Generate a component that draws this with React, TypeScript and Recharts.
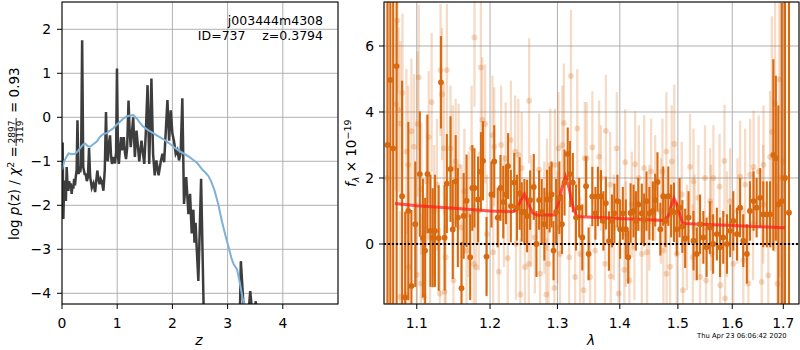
import React from 'react';
import {
  ComposedChart,
  LineChart,
  Line,
  XAxis,
  YAxis,
  CartesianGrid,
  Scatter,
  ErrorBar,
  ReferenceLine,
} from 'recharts';

// ---------- left panel: redshift probability ----------
const zTicks = [0, 1, 2, 3, 4];
const pzTicks = [-4, -3, -2, -1, 0, 1, 2];

// [z, log p(z)]
const pzCurve: [number, number][] = [
  [0.0, -0.6], [0.012, -0.6], [0.024, -2.31], [0.04, -1.5], [0.054, -1.44], [0.07, -1.9],
  [0.085, -1.13], [0.1, -1.55], [0.115, -1.67], [0.13, -1.45], [0.145, -1.6], [0.16, -1.5],
  [0.175, -1.74], [0.19, -1.55], [0.205, -1.62], [0.22, -1.4], [0.235, -1.55], [0.25, -1.35],
  [0.265, -1.2], [0.28, -0.07], [0.3, -1.29], [0.315, -1.15], [0.33, -1.25], [0.345, -1.1],
  [0.365, 1.75], [0.385, -1.13], [0.41, -1.29], [0.43, -1.3], [0.45, -1.45], [0.47, -1.36],
  [0.49, -0.7], [0.51, -1.35], [0.54, -1.6], [0.57, -1.5], [0.6, -1.7], [0.62, -1.45],
  [0.64, -1.21], [0.66, -1.4], [0.68, -1.52], [0.7, -1.4], [0.72, -1.45], [0.75, -1.67],
  [0.775, -1.2], [0.797, 0.12], [0.815, -0.9], [0.83, -1.0], [0.85, -0.6], [0.87, -0.41],
  [0.89, -0.9], [0.905, -1.06], [0.93, -0.9], [0.96, -1.05], [0.98, -0.8], [0.996, 1.11],
  [1.015, -0.9], [1.03, -1.06], [1.05, -0.7], [1.07, -0.45], [1.085, -0.75], [1.1, -0.68],
  [1.12, -0.45], [1.14, -0.8], [1.16, -0.95], [1.18, -0.7], [1.205, 0.38], [1.225, -0.3],
  [1.245, -0.68], [1.29, 0.0], [1.32, -0.9], [1.35, -0.3], [1.4, -1.0], [1.44, -0.53],
  [1.49, -1.06], [1.52, -0.3], [1.55, 0.73], [1.58, -1.06], [1.62, 0.88], [1.65, -0.83],
  [1.68, -1.32], [1.71, -0.98], [1.75, -1.32], [1.79, -1.0], [1.82, -0.83], [1.85, -1.02],
  [1.91, 0.39], [1.94, -0.53], [1.97, 0.16], [2.0, -0.37], [2.03, -0.55], [2.06, -0.83],
  [2.09, -0.75], [2.12, -0.98], [2.15, -0.8], [2.18, 0.43], [2.21, -1.97], [2.25, -1.36],
  [2.29, -2.2], [2.32, -1.74], [2.35, -2.64], [2.38, -2.1], [2.4, -2.85], [2.42, -2.4],
  [2.44, -2.96], [2.47, -3.72], [2.49, -2.8], [2.52, -1.4], [2.545, -3.0], [2.57, -4.6],
  [2.6, -6.0], [3.2, -6.0], [3.24, -3.27], [3.28, -4.1], [3.3, -4.6], [3.37, -4.6],
  [3.41, -3.95], [3.45, -4.5], [3.49, -4.4], [3.51, -4.18], [3.55, -5.0], [3.6, -7.0],
];

// [z, log p(z) of the template fit]
const pzFitCurve: [number, number][] = [
  [0.0, -1.2], [0.04, -1.0], [0.085, -0.89], [0.12, -0.82], [0.18, -0.84], [0.235, -0.83],
  [0.28, -0.78], [0.33, -0.7], [0.38, -0.62], [0.42, -0.6], [0.47, -0.66], [0.51, -0.67],
  [0.56, -0.62], [0.63, -0.55], [0.69, -0.44], [0.75, -0.38], [0.81, -0.36], [0.87, -0.3],
  [0.93, -0.25], [0.99, -0.17], [1.05, -0.1], [1.11, -0.03], [1.17, 0.02], [1.23, 0.04],
  [1.29, 0.05], [1.35, -0.02], [1.41, -0.12], [1.47, -0.21], [1.56, -0.29], [1.65, -0.36],
  [1.74, -0.43], [1.84, -0.5], [1.93, -0.58], [2.02, -0.67], [2.11, -0.75], [2.2, -0.82],
  [2.29, -0.89], [2.38, -0.97], [2.45, -1.04], [2.5, -1.12], [2.55, -1.2], [2.6, -1.26],
  [2.65, -1.33], [2.7, -1.45], [2.76, -1.65], [2.83, -1.97], [2.9, -2.38], [2.96, -2.68],
  [3.02, -2.96], [3.07, -3.2], [3.11, -3.34], [3.17, -3.45], [3.22, -3.75], [3.26, -4.03],
  [3.3, -4.29], [3.34, -4.6],
];

// ---------- right panel: 1D spectrum ----------
const lamTicks = [1.1, 1.2, 1.3, 1.4, 1.5, 1.6, 1.7];
const fluxTicks = [0, 2, 4, 6];

// [lambda, flux, error] - faint (second orientation) spectrum
const faintSpectrum: [number, number, number][] = [
  [1.0614, 2.0, 9], [1.073, 4.24, 2.6], [1.075, 6.77, 2.2], [1.0765, 4.06, 2.5], [1.0784, -1.6, 2.6],
  [1.079, 3.65, 2.5], [1.0815, 4.58, 2.4], [1.0855, -1.55, 2.5], [1.0865, 2.8, 2.5], [1.089, 2.4, 2.4],
  [1.0893, -0.7, 2.3], [1.093, 3.42, 2.2], [1.0965, 2.95, 2.2], [1.1, -0.94, 2.2], [1.101, 3.64, 2.2],
  [1.1026, 5.05, 2.2], [1.1053, -1.2, 2.1], [1.106, 1.67, 2.0], [1.1095, -1.6, 2.1], [1.113, 1.9, 2.0],
  [1.1157, 3.24, 2.0], [1.1175, 0.2, 2.0], [1.1196, 4.3, 2.1], [1.123, 1.0, 2.0], [1.1267, 1.8, 2.0],
  [1.1306, -1.5, 2.0], [1.1315, 5.27, 2.0], [1.1336, 4.54, 2.0], [1.136, 2.9, 2.0], [1.137, -1.45, 2.0],
  [1.1385, -0.4, 1.9], [1.14, 5.27, 2.0], [1.145, 2.9, 1.9], [1.148, 2.3, 1.9], [1.149, -1.1, 1.9],
  [1.152, 2.5, 1.9], [1.156, 2.35, 1.9], [1.16, 0.5, 1.9], [1.164, 1.6, 1.9], [1.167, -0.2, 1.9],
  [1.17, 0.9, 1.9], [1.174, 2.9, 1.9], [1.177, -0.6, 1.8], [1.178, 6.26, 2.1], [1.18, -0.7, 1.8],
  [1.184, 1.0, 1.8], [1.187, 5.35, 2.0], [1.189, 3.76, 1.9], [1.193, 3.64, 1.8], [1.1955, 0.3, 1.8],
  [1.2035, 3.3, 1.8], [1.2045, -0.25, 1.8], [1.206, 2.95, 1.8], [1.2125, -0.84, 1.8], [1.216, 3.0, 1.8],
  [1.22, 1.0, 1.7], [1.2225, 2.59, 1.7], [1.2255, -0.43, 1.7], [1.23, 3.15, 1.8], [1.2363, 2.8, 1.7],
  [1.2375, 0.0, 1.7], [1.241, 2.7, 1.7], [1.244, -1.53, 1.7], [1.246, 2.3, 1.7], [1.2508, -0.7, 1.7],
  [1.2565, -0.6, 1.7], [1.257, 4.34, 1.9], [1.26, 1.0, 1.7], [1.2656, 0.2, 1.7], [1.272, 2.25, 1.7],
  [1.2735, -0.9, 1.7], [1.28, 0.8, 1.7], [1.283, -1.53, 1.7], [1.284, 1.5, 1.7], [1.2862, -0.6, 1.7],
  [1.289, 2.4, 1.7], [1.2953, -1.33, 1.7], [1.296, 2.4, 1.7], [1.3, 0.5, 1.7], [1.3016, 2.9, 1.7],
  [1.304, -0.3, 1.7], [1.3077, 3.0, 1.8], [1.31, 3.67, 1.8], [1.3182, -0.4, 1.7], [1.321, 5.09, 2.0],
  [1.3276, -1.0, 1.7], [1.331, 3.5, 1.8], [1.3355, -0.3, 1.7], [1.341, -1.4, 1.7], [1.343, 2.6, 1.7],
  [1.346, 2.6, 1.7], [1.3514, -1.0, 1.6], [1.3551, 2.93, 1.7], [1.3595, -0.2, 1.6], [1.3659, 2.65, 1.7],
  [1.369, 2.0, 1.6], [1.3757, -0.6, 1.6], [1.377, 3.43, 1.7], [1.384, 1.8, 1.6], [1.385, -0.98, 1.6],
  [1.39, 0.5, 1.6], [1.395, 2.9, 1.7], [1.398, -1.5, 1.6], [1.4075, -0.78, 1.6], [1.409, 2.48, 1.6],
  [1.41, 0.3, 1.6], [1.416, -1.1, 1.6], [1.42, 1.2, 1.6], [1.4245, -0.1, 1.6], [1.4257, 2.42, 1.6],
  [1.432, 2.0, 1.6], [1.437, -0.3, 1.6], [1.441, 2.3, 1.6], [1.446, -0.25, 1.6], [1.45, 0.8, 1.6],
  [1.453, 2.2, 1.6], [1.46, 1.7, 1.6], [1.47, 1.0, 1.6], [1.4726, 2.2, 1.6], [1.4744, -0.2, 1.6],
  [1.4796, 2.8, 1.8], [1.48, -0.9, 1.6], [1.486, -0.69, 1.6], [1.489, 2.5, 1.7], [1.4935, 3.03, 1.8],
  [1.4979, -0.3, 1.6], [1.5068, 1.5, 1.6], [1.509, -1.4, 1.6], [1.516, 0.2, 1.6], [1.5218, 2.34, 1.6],
  [1.5267, -0.4, 1.6], [1.528, 1.9, 1.6], [1.53, 0.5, 1.6], [1.537, 1.4, 1.6], [1.54, -1.0, 1.6],
  [1.549, 2.0, 1.6], [1.551, -1.1, 1.6], [1.5585, 1.3, 1.6], [1.56, 0.8, 1.6], [1.5617, -0.3, 1.6],
  [1.5646, 2.0, 1.6], [1.576, 1.74, 1.6], [1.5772, -1.25, 1.6], [1.5853, 2.52, 1.7], [1.5865, -1.65, 1.6],
  [1.59, 0.6, 1.6], [1.596, 1.3, 1.6], [1.602, -0.6, 1.6], [1.61, 1.0, 1.6], [1.615, 2.04, 1.7],
  [1.6212, -0.5, 1.6], [1.6247, 1.8, 1.7], [1.631, -1.2, 1.7], [1.6343, 2.1, 1.7], [1.64, 0.6, 1.7],
  [1.641, 2.34, 1.7], [1.651, 2.2, 1.7], [1.657, -1.15, 1.8], [1.66, 1.2, 1.8], [1.6605, 2.4, 1.8],
  [1.67, -0.95, 1.9], [1.6735, 2.64, 2.0], [1.677, 3.4, 3.5], [1.6835, 4.27, 4.5], [1.688, -1.2, 3.0],
  [1.692, 4.99, 6], [1.695, 2.0, 9], [1.7, 2.5, 9],
];

// [lambda, flux, error] - main spectrum
const mainSpectrum: [number, number, number][] = [
  [1.0625, 3.0, 9], [1.066, 4.97, 9], [1.0696, 2.9, 9], [1.074, 5.39, 9], [1.081, 1.45, 3.5],
  [1.085, -1.62, 2.6], [1.089, 1.0, 2.7], [1.093, -1.27, 2.3], [1.098, 0.6, 1.9], [1.104, 2.12, 1.9],
  [1.108, 0.18, 1.8], [1.111, -0.2, 1.6], [1.114, 2.12, 1.8], [1.118, 0.4, 1.7], [1.121, 0.19, 1.5],
  [1.124, 0.4, 1.7], [1.129, 0.18, 1.6], [1.132, 4.9, 1.4], [1.137, 0.19, 1.6], [1.14, 1.83, 1.5],
  [1.145, 2.27, 1.6], [1.148, 0.44, 1.5], [1.152, 1.9, 1.4], [1.155, 0.8, 1.5], [1.16, -1.34, 1.4],
  [1.163, 0.85, 1.3], [1.167, 1.31, 1.4], [1.172, -0.4, 1.3], [1.175, 1.7, 1.3], [1.178, 1.7, 1.2],
  [1.183, 1.35, 1.3], [1.187, 2.19, 1.2], [1.19, 2.52, 1.2], [1.195, -0.38, 1.2], [1.202, 1.5, 1.0],
  [1.206, 2.5, 1.1], [1.211, 0.8, 0.9], [1.215, 1.7, 1.0], [1.219, 1.27, 1.1], [1.223, 1.5, 0.9],
  [1.226, 2.36, 1.0], [1.23, 1.15, 1.1], [1.235, 1.86, 0.9], [1.239, 1.1, 1.0], [1.243, 1.53, 1.1],
  [1.246, 0.97, 0.9], [1.25, 0.97, 1.0], [1.254, 0.85, 1.1], [1.2585, 1.33, 0.9], [1.264, 1.73, 1.0],
  [1.268, 0.0, 1.0], [1.272, 1.33, 0.9], [1.276, 0.97, 1.0], [1.28, 0.6, 1.1], [1.284, 1.35, 0.9],
  [1.288, 1.35, 1.0], [1.291, 1.5, 1.0], [1.294, -0.2, 0.9], [1.298, 0.97, 1.0], [1.303, 1.4, 1.1],
  [1.307, 0.6, 0.9], [1.311, 1.86, 1.0], [1.316, 2.73, 0.8], [1.3197, 2.12, 1.0], [1.324, 1.86, 0.9],
  [1.329, 0.8, 1.0], [1.334, 1.1, 0.9], [1.339, 0.2, 1.0], [1.345, 1.75, 0.9], [1.349, -0.3, 0.8],
  [1.355, 1.44, 0.9], [1.36, 0.93, 0.8], [1.364, 1.44, 0.9], [1.369, 1.44, 0.8], [1.373, 0.7, 0.9],
  [1.377, 1.24, 0.8], [1.382, 0.09, 0.9], [1.387, 0.7, 0.8], [1.391, 0.93, 0.9], [1.396, 1.3, 0.8],
  [1.4005, 0.45, 0.9], [1.405, 0.93, 0.8], [1.41, 0.45, 0.9], [1.414, -0.4, 0.8], [1.418, 0.94, 0.9],
  [1.423, 1.0, 0.8], [1.427, 0.7, 0.9], [1.431, 1.2, 0.8], [1.437, 0.93, 0.9], [1.441, 0.73, 0.8],
  [1.445, 1.3, 0.9], [1.45, 0.93, 0.8], [1.456, 1.0, 0.9], [1.46, 1.33, 0.8], [1.464, 1.88, 0.9],
  [1.469, 0.45, 0.8], [1.474, 1.45, 0.9], [1.478, 0.7, 0.8], [1.483, 1.45, 0.9], [1.488, 1.0, 0.8],
  [1.493, 0.96, 0.9], [1.498, 0.45, 0.8], [1.503, 1.1, 0.9], [1.508, 0.53, 0.8], [1.513, 0.17, 0.9],
  [1.519, 0.8, 0.8], [1.528, 0.1, 0.9], [1.534, -0.3, 0.8], [1.54, 0.6, 0.9], [1.546, 0.2, 0.8],
  [1.552, -0.1, 0.9], [1.558, 0.5, 0.8], [1.564, 0.0, 0.9], [1.571, 0.3, 0.8], [1.577, -0.1, 0.9],
  [1.583, 0.2, 0.8], [1.59, 0.0, 0.9], [1.596, 0.4, 0.8], [1.602, 0.7, 0.9], [1.609, 0.3, 0.8],
  [1.615, 1.1, 0.9], [1.621, 0.1, 0.8], [1.628, -0.3, 0.9], [1.634, 1.0, 0.9], [1.641, 1.3, 0.9],
  [1.647, 1.1, 0.9], [1.654, 1.4, 0.9], [1.66, 0.9, 1.0], [1.667, 0.9, 1.0], [1.6735, 0.9, 1.0],
  [1.68, 2.7, 2.9], [1.685, 2.6, 2.5], [1.69, 1.2, 3.0], [1.697, 1.3, 6.0], [1.7035, 2.0, 9],
  [1.7115, 0.95, 9],
];

// [lambda, model flux]
const modelSpectrum: [number, number][] = [
  [1.072, 1.23], [1.1, 1.16], [1.15, 1.08], [1.2, 1.0], [1.232, 0.98], [1.238, 1.03],
  [1.244, 1.3], [1.25, 1.51], [1.256, 1.2], [1.262, 0.95], [1.268, 0.88], [1.296, 0.88],
  [1.301, 1.2], [1.307, 1.7], [1.3126, 2.04], [1.318, 1.7], [1.324, 1.15], [1.33, 0.83],
  [1.4, 0.77], [1.475, 0.71], [1.483, 0.85], [1.488, 1.15], [1.493, 1.38], [1.498, 1.2],
  [1.504, 0.85], [1.509, 0.62], [1.6, 0.56], [1.703, 0.49],
];

const FONT = 'DejaVu Sans';
const ORANGE = '#d8690f';
const FLUX_MIN = -1.818;
const FLUX_MAX = 7.333;

const minus = (v: number) => String(v).replace('-', '\u2212');

const pzData = pzCurve.map(([z, v]) => ({ z, v }));
const pzFitData = pzFitCurve.map(([z, v]) => ({ z, v }));
const faintData = faintSpectrum.map(([x, y, err]) => ({ x, y, err }));
const mainData = mainSpectrum.map(([x, y, err]) => ({ x, y, err }));
const modelData = modelSpectrum.map(([x, y]) => ({ x, y }));

// error bar extent (relative), limited to the visible axes box
const clippedErr = (d: any) => {
  const p = d && d.payload ? d.payload : d;
  return [Math.min(p.err, p.y - FLUX_MIN), Math.min(p.err, FLUX_MAX - p.y)];
};

const tickStyle = { fill: '#000', fontSize: 13.9, fontFamily: FONT };

const FaintDot = (p: any) => (
  <circle cx={p.cx} cy={p.cy} r={2.9} fill={ORANGE} fillOpacity={0.25} />
);
const MainDot = (p: any) => <circle cx={p.cx} cy={p.cy} r={2.9} fill={ORANGE} />;

export default function App() {
  return (
    <div style={{ position: 'absolute', left: 0, top: 0, width: 800, height: 350, background: '#fff' }}>
      <div style={{ position: 'absolute', left: 0, top: 0 }}>
        <LineChart width={340} height={350} margin={{ top: 2, right: 2, left: 0, bottom: 0 }}>
          <CartesianGrid stroke="#b0b0b0" strokeWidth={1} />
          <XAxis
            type="number"
            dataKey="z"
            domain={[0, 5]}
            ticks={zTicks}
            interval={0}
            allowDataOverflow
            height={46}
            tickSize={5}
            tickMargin={9}
            axisLine={false}
            tickLine={{ stroke: '#000' }}
            tick={tickStyle}
          />
          <YAxis
            type="number"
            domain={[-4.243, 2.62]}
            ticks={pzTicks}
            interval={0}
            allowDataOverflow
            width={62}
            tickSize={5}
            tickMargin={6}
            axisLine={false}
            tickLine={{ stroke: '#000' }}
            tick={tickStyle}
            tickFormatter={minus}
          />
          <Line data={pzData} dataKey="v" stroke="#3d3d3d" strokeWidth={2.5} dot={false} isAnimationActive={false} />
          <Line data={pzFitData} dataKey="v" stroke="#7fb1d6" strokeWidth={2} dot={false} isAnimationActive={false} />
        </LineChart>
      </div>
      <div style={{ position: 'absolute', left: 340, top: 0 }}>
        <ComposedChart width={460} height={350} margin={{ top: 2, right: 1, left: 0, bottom: 0 }}>
          <CartesianGrid stroke="#b0b0b0" strokeWidth={1} />
          <XAxis
            type="number"
            dataKey="x"
            scale="log"
            domain={[1.058, 1.732]}
            ticks={lamTicks}
            interval={0}
            allowDataOverflow
            height={46}
            tickSize={5}
            tickMargin={9}
            axisLine={false}
            tickLine={{ stroke: '#000' }}
            tick={tickStyle}
            tickFormatter={(v: number) => v.toFixed(1)}
          />
          <YAxis
            type="number"
            dataKey="y"
            domain={[FLUX_MIN, FLUX_MAX]}
            ticks={fluxTicks}
            interval={0}
            allowDataOverflow
            width={44}
            tickSize={5}
            tickMargin={5}
            axisLine={false}
            tickLine={{ stroke: '#000' }}
            tick={tickStyle}
          />
          <Scatter data={faintData} dataKey="y" shape={FaintDot} isAnimationActive={false}>
            <ErrorBar dataKey={clippedErr} direction="y" width={0} stroke={ORANGE} strokeOpacity={0.24} strokeWidth={2.3} isAnimationActive={false} />
          </Scatter>
          <Scatter data={mainData} dataKey="y" shape={MainDot} isAnimationActive={false}>
            <ErrorBar dataKey={clippedErr} direction="y" width={0} stroke={ORANGE} strokeWidth={2.1} isAnimationActive={false} />
          </Scatter>
          <Line data={modelData} dataKey="y" stroke="#ff1a1a" strokeOpacity={0.72} strokeWidth={3} dot={false} isAnimationActive={false} />
          <ReferenceLine y={0} stroke="#000" strokeWidth={2} strokeDasharray="2 2" />
        </ComposedChart>
      </div>
      <svg width={800} height={350} style={{ position: 'absolute', left: 0, top: 0, pointerEvents: 'none' }} fontFamily={FONT}>
        <rect x={62} y={2} width={276} height={302} fill="none" stroke="#000" strokeWidth={1} />
        <rect x={384} y={2} width={415} height={302} fill="none" stroke="#000" strokeWidth={1} />
        <text x={323} y={24.5} fontSize={12.5} textAnchor="end">j003444m4308</text>
        <text x={245.5} y={39.5} fontSize={12.5} textAnchor="end">ID=737</text>
        <text x={323} y={39.5} fontSize={12.5} textAnchor="end">z=0.3794</text>
        <text x={199} y={345} fontSize={13.9} fontStyle="italic" textAnchor="middle">z</text>
        <text x={591} y={345} fontSize={13.9} fontStyle="italic" textAnchor="middle">λ</text>
        <g transform="translate(18.5,240) rotate(-90)">
          <text x={0} y={0} fontSize={13.5}>
            log <tspan fontStyle="italic">p</tspan>(z) / <tspan fontStyle="italic">χ</tspan>
            <tspan dy={-5} fontSize={9.5}>2</tspan>
            <tspan dy={5}> =</tspan>
          </text>
          <text x={108} y={-3.8} fontSize={9} textAnchor="middle">2897</text>
          <line x1={94} x2={122} y1={-2.4} y2={-2.4} stroke="#000" strokeWidth={0.8} />
          <text x={108} y={4.6} fontSize={9} textAnchor="middle">3119</text>
          <text x={127} y={0} fontSize={13.5}>= 0.93</text>
        </g>
        <g transform="translate(356,187) rotate(-90)">
          <text x={0} y={0} fontSize={13.5}>
            <tspan fontStyle="italic">f</tspan>
            <tspan dy={3} fontSize={9.5} fontStyle="italic">λ</tspan>
            <tspan dy={-3}> × 10</tspan>
            <tspan dy={-5.5} fontSize={9.5}>−19</tspan>
          </text>
        </g>
        <text x={697} y={338} fontSize={6.8} fill="#000">Thu Apr 23 06:06:42 2020</text>
      </svg>
    </div>
  );
}
